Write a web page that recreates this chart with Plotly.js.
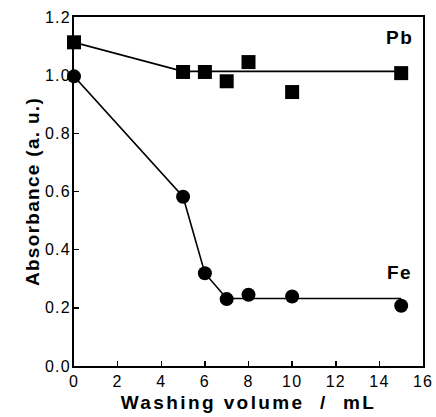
<!DOCTYPE html>
<html>
<head>
<meta charset="utf-8">
<script src="https://cdn.plot.ly/plotly-3.0.1.min.js"></script>
<style>
html, body { margin: 0; padding: 0; background: #fff; }
#chart { width: 436px; height: 417px; }
.xtitle { letter-spacing: 2.4px; }
.ytitle { letter-spacing: 1.3px; }
.annotation-text { letter-spacing: 1.5px; }
.xtick text, .ytick text { letter-spacing: 1.2px; }
</style>
</head>
<body>
<div id="chart"></div>
<script>
// Measured points
var volumePb = [0, 5, 6, 7, 8, 10, 15];
var absPb    = [1.113, 1.011, 1.011, 0.979, 1.045, 0.942, 1.007];
var volumeFe = [0, 5, 6, 7, 8, 10, 15];
var absFe    = [0.996, 0.582, 0.319, 0.230, 0.245, 0.239, 0.207];

// Guide lines drawn through the data
var pbLineX = [0, 5, 15];
var pbLineY = [1.113, 1.013, 1.013];
var feLineX = [0, 5, 6, 7, 15];
var feLineY = [0.996, 0.582, 0.319, 0.232, 0.232];

// Tick labels
var xTicks = [0, 2, 4, 6, 8, 10, 12, 14, 16];
var yTicks = [0.0, 0.2, 0.4, 0.6, 0.8, 1.0, 1.2];

var font = 'Liberation Sans, Arial, Helvetica, sans-serif';

var traces = [
  { x: pbLineX, y: pbLineY, mode: 'lines', line: {color: '#000', width: 1.6}, hoverinfo: 'skip', showlegend: false, cliponaxis: false },
  { x: feLineX, y: feLineY, mode: 'lines', line: {color: '#000', width: 1.6}, hoverinfo: 'skip', showlegend: false, cliponaxis: false },
  { x: volumePb, y: absPb, name: 'Pb', mode: 'markers', marker: {symbol: 'square', size: 14, color: '#000'}, showlegend: false, cliponaxis: false },
  { x: volumeFe, y: absFe, name: 'Fe', mode: 'markers', marker: {symbol: 'circle', size: 14, color: '#000'}, showlegend: false, cliponaxis: false }
];

var layout = {
  width: 436, height: 417,
  margin: {l: 74, r: 13, t: 17, b: 51},
  paper_bgcolor: '#fff', plot_bgcolor: '#fff',
  font: {family: font, color: '#000', size: 16},
  xaxis: {
    range: [0, 16], tickvals: xTicks, ticktext: xTicks.map(String),
    ticks: 'inside', ticklen: 5, tickwidth: 1.5, tickcolor: '#000',
    showline: true, linecolor: '#000', linewidth: 2, mirror: true,
    showgrid: false, zeroline: false,
    tickfont: {family: font, size: 16, color: '#000'},
    title: {text: 'Washing volume  /  mL', font: {family: font, size: 19, weight: 'bold', color: '#000'}, standoff: 6}
  },
  yaxis: {
    range: [0, 1.2], tickvals: yTicks, ticktext: yTicks.map(function(v){return v.toFixed(1);}),
    ticks: 'inside', ticklen: 5, tickwidth: 1.5, tickcolor: '#000',
    ticklabelstandoff: -2,
    showline: true, linecolor: '#000', linewidth: 2, mirror: true,
    showgrid: false, zeroline: false,
    tickfont: {family: font, size: 16, color: '#000'},
    title: {text: 'Absorbance (a. u.)', font: {family: font, size: 19, weight: 'bold', color: '#000'}, standoff: 0}
  },
  annotations: [
    {x: 14.92, y: 1.131, xref: 'x', yref: 'y', text: 'Pb', showarrow: false, font: {family: font, size: 19, weight: 'bold', color: '#000'}},
    {x: 14.94, y: 0.322, xref: 'x', yref: 'y', text: 'Fe', showarrow: false, font: {family: font, size: 19, weight: 'bold', color: '#000'}}
  ]
};

Plotly.newPlot('chart', traces, layout, {displayModeBar: false, staticPlot: true});
</script>
</body>
</html>
